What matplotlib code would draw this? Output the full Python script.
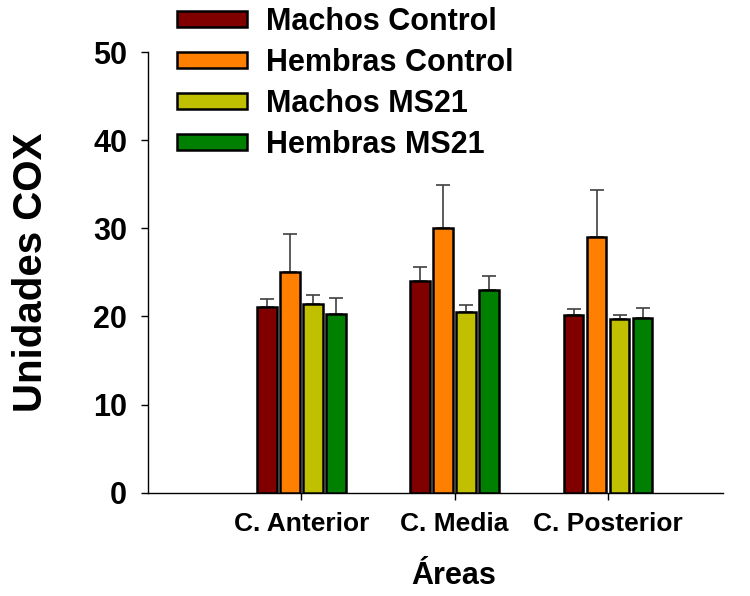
import numpy as np
import matplotlib
matplotlib.use('Agg')
import matplotlib.pyplot as plt

plt.rcParams['font.family'] = 'Liberation Sans'
plt.rcParams['font.weight'] = 'bold'

# Datos
areas = ['C. Anterior', 'C. Media', 'C. Posterior']
series = ['Machos Control', 'Hembras Control', 'Machos MS21', 'Hembras MS21']
machos_control = [21.1, 24.0, 20.2]
hembras_control = [25.0, 30.0, 29.0]
machos_ms21 = [21.4, 20.5, 19.7]
hembras_ms21 = [20.3, 23.0, 19.8]
err_machos_control = [0.9, 1.6, 0.6]
err_hembras_control = [4.4, 4.9, 5.3]
err_machos_ms21 = [1.0, 0.8, 0.5]
err_hembras_ms21 = [1.8, 1.6, 1.1]

colores = ['#800000', '#FF8000', '#C0C000', '#008000']
valores = [machos_control, hembras_control, machos_ms21, hembras_ms21]
errores = [err_machos_control, err_hembras_control, err_machos_ms21, err_hembras_ms21]

fig = plt.figure(figsize=(7.5, 5.96), dpi=100)
ax = fig.add_axes([148/750, 1-492.7/596, 575/750, 440.7/596])

x = np.arange(1, len(areas)+1)
ancho = 0.127
paso = 0.15
handles = []
for i in range(len(series)):
    pos = x + (i - 1.5) * paso
    b = ax.bar(pos, valores[i], ancho, color=colores[i], edgecolor='black',
               linewidth=1.8, zorder=3, label=series[i])
    ax.errorbar(pos, valores[i], yerr=[np.zeros(len(x)), errores[i]], fmt='none',
                ecolor='#404040', elinewidth=1.2, capsize=4.7, capthick=1.2, zorder=2)
    handles.append(b)

ax.set_xlim(0, 3.75)
ax.set_ylim(0, 50)
ax.set_yticks([0, 10, 20, 30, 40, 50])
ax.set_xticks(x)
ax.set_xticklabels(areas, fontsize=19, fontweight='bold')
ax.tick_params(axis='y', labelsize=22, length=5, width=1, pad=10)
ax.tick_params(axis='x', length=5, width=1, pad=9)
for t in ax.get_yticklabels():
    t.set_fontweight('bold')

ax.spines['top'].set_visible(False)
ax.spines['right'].set_visible(False)
ax.spines['left'].set_linewidth(1)
ax.spines['bottom'].set_linewidth(1)

ax.set_ylabel('Unidades COX', fontsize=29, fontweight='bold')
ax.yaxis.set_label_coords(-0.17, 0.5)
ax.set_xlabel('Áreas', fontsize=22, fontweight='bold')
ax.xaxis.set_label_coords(0.532, -0.155)

fig.legend(handles=handles, labels=series, loc='upper left',
           bbox_to_anchor=(177/750, 1 - 7/596), frameon=False,
           fontsize=22, handlelength=2.3, handleheight=0.45,
           handletextpad=0.62, labelspacing=0.36, borderpad=0, borderaxespad=0)

fig.savefig('out.png', dpi=100)
